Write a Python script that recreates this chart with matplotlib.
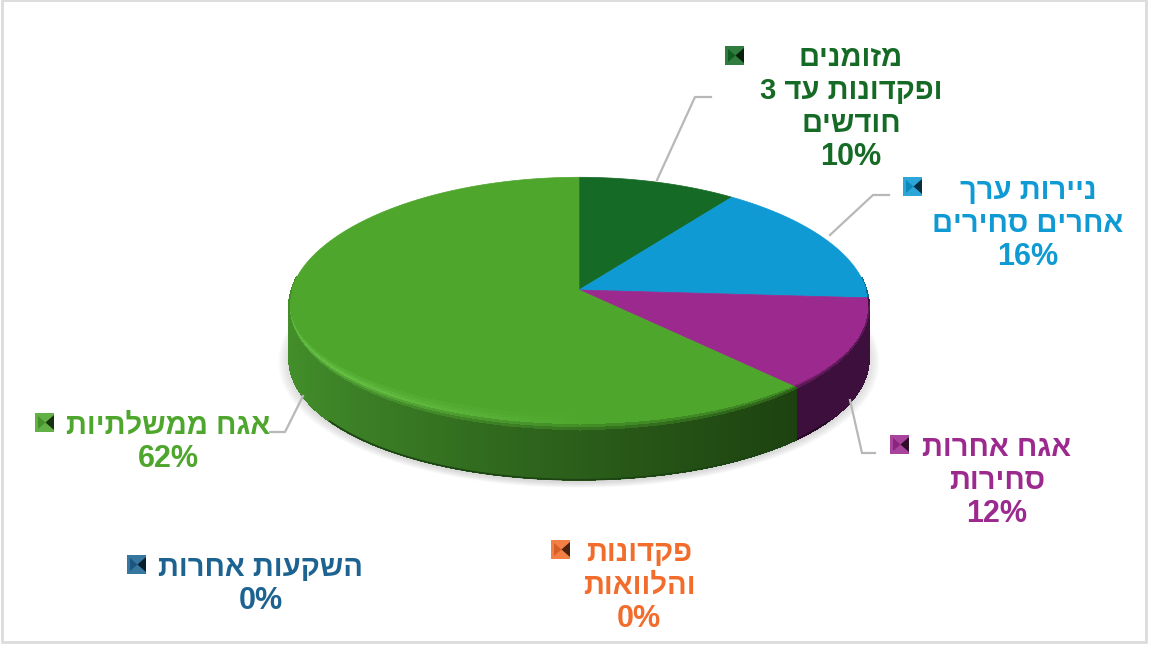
import matplotlib
matplotlib.use("Agg")
import matplotlib.pyplot as plt
from matplotlib.collections import PolyCollection
from matplotlib.colors import to_rgb
from matplotlib.patches import Polygon, Rectangle
import numpy as np

# values of the slices, clockwise from 12 o'clock
valores = [10, 16, 12, 0, 0, 62]
porcentajes = ["10%", "16%", "12%", "0%", "0%", "62%"]
# hebrew lines in logical order
nombres = [
    ["מזומנים", "ופקדונות עד 3", "חודשים"],
    ["ניירות ערך", "אחרים סחירים"],
    ["אגח אחרות", "סחירות"],
    ["פקדונות", "והלוואות"],
    ["השקעות אחרות"],
    ["אגח ממשלתיות"],
]
colores = ["#156a25", "#0f9ad4", "#9c2a8e", "#f26d2c", "#1c6391", "#4ea62d"]
lados = ["#0c3d15", "#0a5f88", "#3c0f3c", "#8a3d18", "#0e3a58", "#2f7020"]

# label layout in pixels
centro_texto = [(851, 58), (1028, 191), (997, 448), (639, 553), (261, 568), (168, 426)]
alto_linea = 33
cuadros = [(725, 46), (903, 177), (890, 435), (551, 540), (127, 555), (35, 413)]
lineas_guia = [
    [(657, 180), (695, 97), (711, 97)],
    [(830, 235), (873, 195), (889, 195)],
    [(850, 400), (862, 453), (875, 453)],
    None,
    None,
    [(303, 396), (285, 432), (270, 432)],
]

# pie geometry in pixels
cx, cy = 579, 290
a, b = 287.5, 124
kx, ky = 0.13, 0.1
prof = 52


def proyectar(t):
    # perspective view of the disc, front is a bit bigger than back
    return (cx + a * np.sin(t) / (1 + kx * np.cos(t)),
            cy - b * np.cos(t) / (1 + ky * np.cos(t)))


def hebreo(linea):
    # matplotlib has no bidi, so hebrew goes in visual order
    return linea[::-1]


def mezcla(c1, c2, f):
    return tuple((1 - f) * np.array(to_rgb(c1)) + f * np.array(to_rgb(c2)))


def color_lado(i, x):
    if i == 5:
        # green wall gets darker to the right, lighter to the left
        f = np.clip((x - 288) / 510, 0, 1)
        return mezcla("#438f2b", "#1d4210", f**0.8)
    return lados[i]


fig = plt.figure(figsize=(11.52, 6.48), dpi=100)
ax = fig.add_axes([0, 0, 1, 1])
ax.set_xlim(0, 1152)
ax.set_ylim(648, 0)
ax.axis("off")

ax.add_patch(Rectangle((2, 0), 1144, 642, fc="white", ec="#dcdcdc", lw=2, zorder=0))

# soft shadow under the pie
tt = np.linspace(0, 2 * np.pi, 240)
xs, ys = proyectar(tt)
for g in range(7):
    esc = 1 + 0.006 * g
    ax.fill(cx + (xs - cx) * esc, cy + prof + 3 + (ys - cy) * esc, color="#808080",
            alpha=0.045, lw=0, zorder=1)

angulos = 2 * np.pi * np.cumsum([0] + valores) / sum(valores)

# outer wall of the pie
polys, cols = [], []
for i in range(len(valores)):
    if valores[i] == 0:
        continue
    t = np.arange(angulos[i], angulos[i + 1] + 0.004, 0.004)
    for t0, t1 in zip(t[:-1], t[1:]):
        if np.cos(t0) > 0.1:
            continue
        x0, y0 = proyectar(t0)
        x1, y1 = proyectar(t1)
        polys.append([(x0, y0), (x1, y1), (x1, y1 + prof), (x0, y0 + prof)])
        cols.append(color_lado(i, x0))
    # dark line along the front of the bottom edge only
    t = t[np.cos(t) <= -0.6]
    if len(t) > 1:
        x, y = proyectar(t)
        ax.plot(x, y + prof, color=mezcla(lados[i], "black", 0.4), lw=1.2, zorder=2.5)
ax.add_collection(PolyCollection(polys, facecolors=cols, edgecolors=cols, linewidths=0.6,
                                 antialiaseds=False, zorder=2))

# top faces
caras = {}
for i in range(len(valores)):
    if valores[i] == 0:
        continue
    t = np.linspace(angulos[i], angulos[i + 1], 200)
    x, y = proyectar(t)
    ax.fill(np.r_[cx, x], np.r_[cy, y], color=colores[i], lw=0.5, zorder=3)
    caras[i] = Polygon(np.c_[np.r_[cx, x], np.r_[cy, y]], transform=ax.transData)

# bevel between top face and wall, upper part stays inside its own face
pasos = [-13, -9, -6, -3, 0, 3, 6]
for i in caras:
    pol_arriba, col_arriba, pol_abajo, col_abajo = [], [], [], []
    t = np.arange(angulos[i], angulos[i + 1] + 0.004, 0.004)
    for t0, t1 in zip(t[:-1], t[1:]):
        c = -np.cos(t0)
        if c < 0:
            continue
        x0, y0 = proyectar(t0)
        x1, y1 = proyectar(t1)
        lado = color_lado(i, x0)
        if i == 5:
            medio = mezcla("#66c043", colores[i], np.clip((x0 - 330) / 260, 0, 1))
        else:
            medio = colores[i]
        for j in range(len(pasos) - 1):
            d0, d1 = pasos[j] * c, pasos[j + 1] * c
            quad = [(x0, y0 + d0), (x1, y1 + d0), (x1, y1 + d1), (x0, y0 + d1)]
            if j < 3:
                col = mezcla(colores[i], medio, (j + 1) / 3)
            else:
                col = mezcla(medio, lado, (j - 2) / 3)
            if j < 4:
                pol_arriba.append(quad)
                col_arriba.append(col)
            else:
                pol_abajo.append(quad)
                col_abajo.append(col)
    arriba = PolyCollection(pol_arriba, facecolors=col_arriba, edgecolors=col_arriba,
                            linewidths=0.4, antialiaseds=False, zorder=4)
    ax.add_collection(arriba)
    arriba.set_clip_path(caras[i])
    ax.add_collection(PolyCollection(pol_abajo, facecolors=col_abajo, edgecolors=col_abajo,
                                     linewidths=0.4, antialiaseds=False, zorder=4))

# leader lines, legend keys and labels
for i in range(len(valores)):
    if lineas_guia[i] is not None:
        lx, ly = zip(*lineas_guia[i])
        ax.plot(lx, ly, color="#b8b8b8", lw=1.6, solid_joinstyle="miter", zorder=5)
    qx, qy = cuadros[i]
    q = 19
    ax.add_patch(Rectangle((qx, qy), q, q, fc=mezcla(colores[i], "white", 0.12), lw=0, zorder=5))
    ax.fill([qx + q, qx + q, qx + q * 0.55], [qy + 2, qy + q - 2, qy + q / 2],
            color=mezcla(colores[i], "black", 0.7), lw=0, zorder=6)
    ax.fill([qx + 3, qx + q * 0.55, qx + 3], [qy + 3, qy + q / 2, qy + q - 3],
            color=mezcla(colores[i], "black", 0.12), lw=0, zorder=6)
    tx, ty = centro_texto[i]
    lineas = [hebreo(n) for n in nombres[i]] + [porcentajes[i]]
    for n, linea in enumerate(lineas):
        ax.text(tx, ty + n * alto_linea, linea, color=colores[i], ha="center", va="center",
                family="Liberation Sans", weight="bold",
                fontsize=22 if "%" in linea else 21, zorder=7)

fig.savefig("out.png", dpi=100)
